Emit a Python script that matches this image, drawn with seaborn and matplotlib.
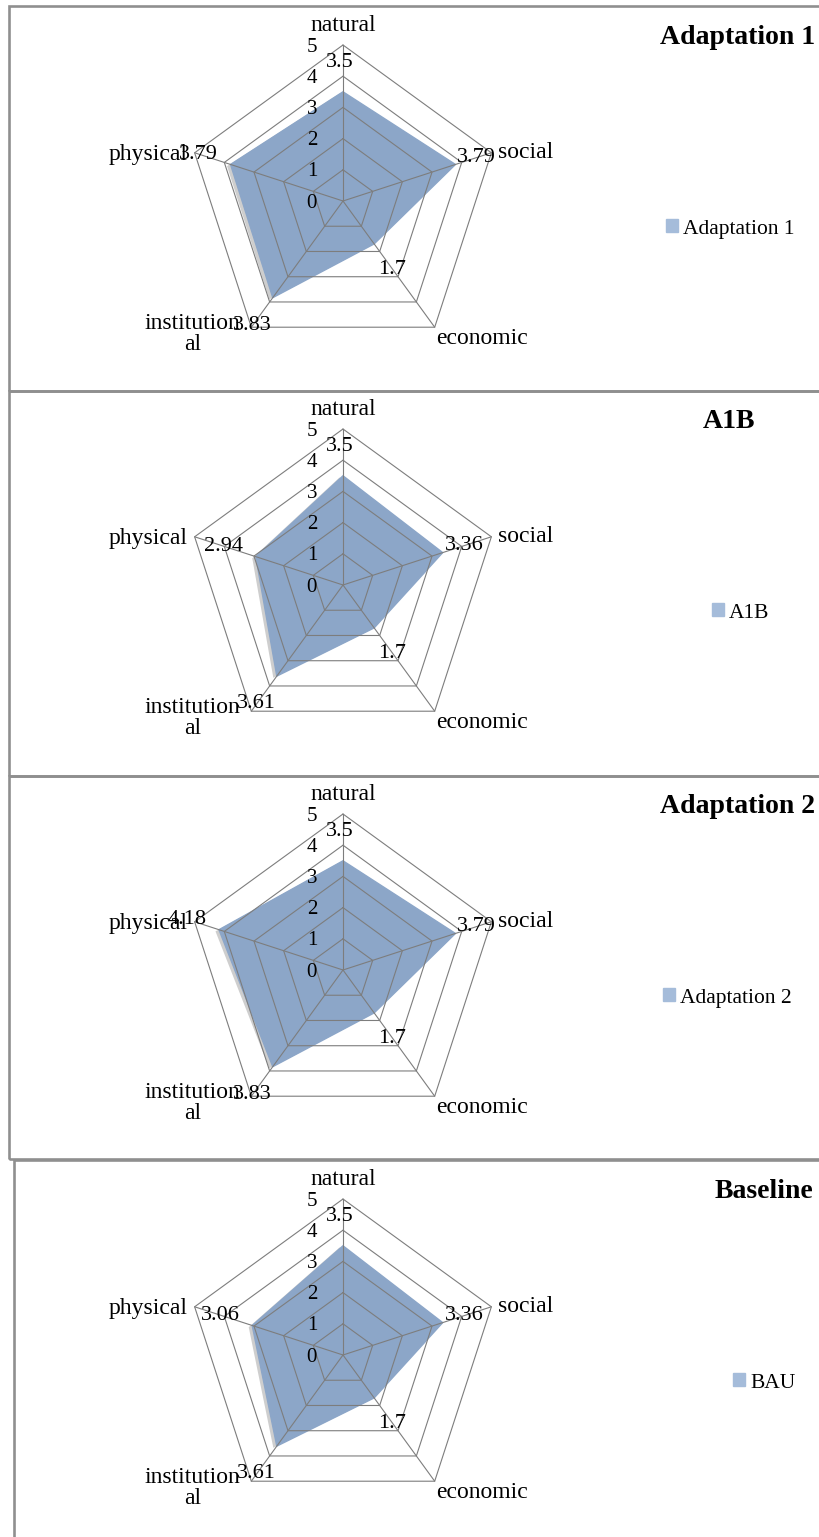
import numpy as np
import pandas as pd
import matplotlib
matplotlib.use("Agg")
import matplotlib.pyplot as plt
import matplotlib.patheffects as pe
from matplotlib.patches import Rectangle
import seaborn as sns

# ---------------- data ----------------
categories = ["natural", "social", "economic", "institutional", "physical"]
axis_labels = ["natural", "social", "economic", "institution\nal", "physical"]
adaptation1 = [3.5, 3.79, 1.7, 3.83, 3.79]
a1b = [3.5, 3.36, 1.7, 3.61, 2.94]
adaptation2 = [3.5, 3.79, 1.7, 3.83, 4.18]
baseline = [3.5, 3.36, 1.7, 3.61, 3.06]
titles = ["Adaptation 1", "A1B", "Adaptation 2", "Baseline"]
series_names = ["Adaptation 1", "A1B", "Adaptation 2", "BAU"]
tick_values = [0, 1, 2, 3, 4, 5]

panels_values = [adaptation1, a1b, adaptation2, baseline]

# ---------------- layout (pixels) ----------------
W, H = 820, 1537
centers_y = [201, 585, 970, 1355]
center_x = 343
unit_px = 31.2            # pixels per value unit
half_range = 7.0
title_pos = [(660, "left"), (729, "center"), (660, "left"), (715, "left")]
legend_x = [666, 712, 663, 733]
panel_boxes = [(9, 6, 391), (9, 391, 776), (9, 776, 1159), (14, 1160, 1560)]

FILL = "#8CA6C8"
LEGEND_FILL = "#A5BCDA"
GRID = "#7d7d7d"

sns.set_theme(style="white")
plt.rcParams["font.family"] = ["Liberation Serif", "DejaVu Serif"]
plt.rcParams["text.color"] = "black"
plt.rcParams["legend.labelcolor"] = "black"

fig = plt.figure(figsize=(W / 100, H / 100), dpi=100)
fig.patch.set_facecolor("white")


def fx(px):
    return px / W


def fy(py):
    return 1 - py / H


# panel frames
for (x0, y0, y1) in panel_boxes:
    fig.add_artist(Rectangle((fx(x0), fy(y1)), fx(W + 20) - fx(x0), fy(y0) - fy(y1),
                             transform=fig.transFigure, fill=False,
                             edgecolor="#8f8f8f", linewidth=1.9, zorder=0))

angles = np.deg2rad(90 - 72 * np.arange(len(categories)))
cosA, sinA = np.cos(angles), np.sin(angles)
label_pad = [0.95, 0.72, 1.0, 1.1, 1.08]

for i, vals in enumerate(panels_values):
    cy = centers_y[i]
    size_px = 2 * half_range * unit_px
    ax = fig.add_axes([fx(center_x - size_px / 2), fy(cy + size_px / 2),
                       size_px / W, size_px / H])
    ax.set_xlim(-half_range, half_range)
    ax.set_ylim(-half_range, half_range)
    ax.axis("off")

    v = np.array(vals)
    xs, ys = v * cosA, v * sinA
    poly = ax.fill(xs, ys, color=FILL, zorder=1, label=series_names[i],
                   path_effects=[pe.SimplePatchShadow(offset=(-2.5, -1.2),
                                                      shadow_rgbFace="#c9c9c9", alpha=0.9),
                                 pe.Normal()])[0]

    # grid rings via seaborn
    rows = []
    for r in tick_values[1:]:
        for k in list(range(len(categories))) + [0]:
            rows.append({"ring": r, "order": k, "x": r * cosA[k], "y": r * sinA[k]})
    ring_df = pd.DataFrame(rows)
    for r in tick_values[1:]:
        sub = ring_df[ring_df["ring"] == r]
        sns.lineplot(data=sub, x="x", y="y", sort=False, estimator=None,
                     color=GRID, linewidth=0.8, ax=ax, zorder=2)
    for k in range(len(categories)):
        ax.plot([0, tick_values[-1] * cosA[k]], [0, tick_values[-1] * sinA[k]],
                color=GRID, linewidth=0.8, zorder=2)
    ax.set_xlim(-half_range, half_range)
    ax.set_ylim(-half_range, half_range)
    ax.axis("off")

    # radial tick labels
    for t in tick_values:
        ax.text(-0.83, t - 0.07, str(t), ha="right", va="center", fontsize=15,
                color="black", clip_on=False, zorder=4)

    # data labels
    for k, val in enumerate(vals):
        rr = val + label_pad[k]
        dx = -0.1 if k == 0 else 0
        ax.text(rr * cosA[k] + dx, rr * sinA[k], f"{val:g}", ha="center", va="center",
                fontsize=16, color="black", clip_on=False, zorder=5)

    # category labels
    R = tick_values[-1]
    vx, vy = R * cosA, R * sinA
    ax.text(0, R + 0.64, axis_labels[0], ha="center", va="center", fontsize=17, clip_on=False)
    ax.text(vx[1] + 0.2, vy[1] + 0.0, axis_labels[1], ha="left", va="center", fontsize=17, clip_on=False)
    ax.text(vx[2] + 0.05, vy[2] - 0.03, axis_labels[2], ha="left", va="top", fontsize=17, clip_on=False)
    ax.text(vx[3] - 0.35, vy[3] + 0.45, axis_labels[3], ha="right", va="top", fontsize=17,
            multialignment="center", linespacing=1.0, clip_on=False)
    ax.text(vx[4] - 0.22, vy[4] - 0.06, axis_labels[4], ha="right", va="center", fontsize=17, clip_on=False)

    # title
    tx, tha = title_pos[i]
    fig.text(fx(tx), fy(cy - 163), titles[i], ha=tha, va="center", fontsize=20,
             fontweight="bold", color="black")

    # legend
    leg = ax.legend(handles=[poly], labels=[series_names[i]], loc="center left",
                    bbox_to_anchor=(fx(legend_x[i]), fy(cy + 28)),
                    bbox_transform=fig.transFigure, frameon=False,
                    handlelength=0.55, handleheight=0.55, handletextpad=0.25,
                    borderpad=0, borderaxespad=0, prop={"size": 15.5})
    for txt in leg.get_texts():
        txt.set_color("black")
    for h in leg.legend_handles:
        h.set_facecolor(LEGEND_FILL)
        h.set_edgecolor(LEGEND_FILL)
        h.set_path_effects([])

fig.savefig("out.png", dpi=100, facecolor="white")
